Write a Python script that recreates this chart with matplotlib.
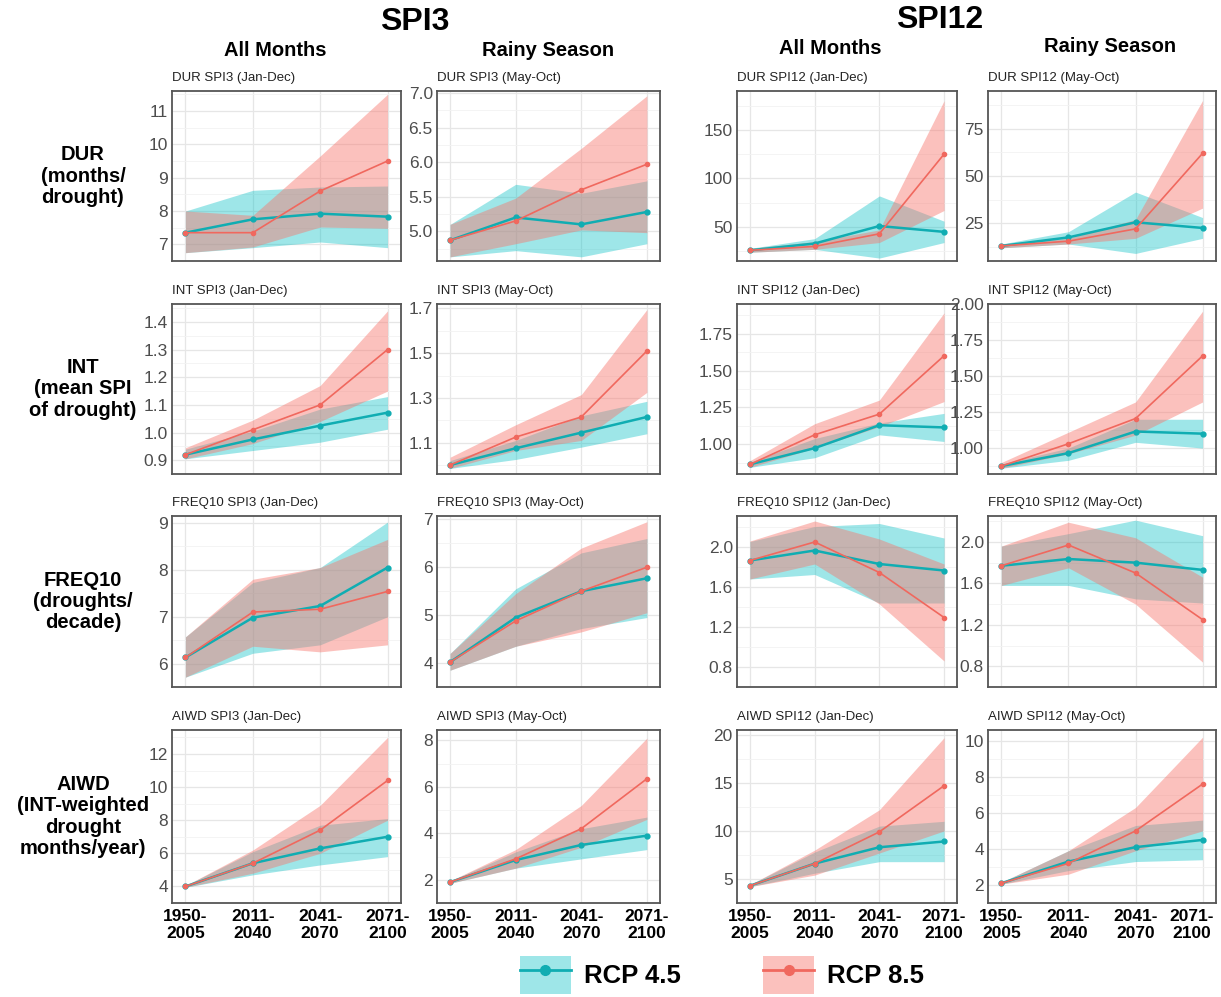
import numpy as np
import matplotlib
matplotlib.use("Agg")
import matplotlib.pyplot as plt
from matplotlib.lines import Line2D
from matplotlib.patches import Patch

periods = ["1950-\n2005", "2011-\n2040", "2041-\n2070", "2071-\n2100"]

# each panel: mean / low / high for RCP 4.5 and RCP 8.5
dur_spi3_jd = dict(m45=[7.35, 7.75, 7.92, 7.83], lo45=[6.75, 6.9, 7.07, 6.9], hi45=[8.0, 8.62, 8.72, 8.75],
                   m85=[7.35, 7.35, 8.6, 9.5], lo85=[6.75, 6.92, 7.52, 7.48], hi85=[8.0, 7.87, 9.65, 11.5])
dur_spi3_mo = dict(m45=[4.87, 5.2, 5.1, 5.28], lo45=[4.63, 4.72, 4.63, 4.82], hi45=[5.1, 5.68, 5.55, 5.73],
                   m85=[4.87, 5.15, 5.6, 5.97], lo85=[4.63, 4.82, 5.02, 4.98], hi85=[5.1, 5.48, 6.2, 6.96])
dur_spi12_jd = dict(m45=[26, 33, 51, 45], lo45=[24, 27, 18, 34], hi45=[28, 38, 82, 56],
                    m85=[26, 30, 43, 125], lo85=[24, 27, 34, 67], hi85=[28, 35, 47, 180])
dur_spi12_mo = dict(m45=[13, 17.5, 25.5, 22.5], lo45=[12, 14, 9, 17], hi45=[14, 20.5, 41.5, 28],
                    m85=[13, 15.5, 22, 62], lo85=[12, 14, 17, 33], hi85=[14, 17, 27, 90])

int_spi3_jd = dict(m45=[0.92, 0.975, 1.025, 1.072], lo45=[0.905, 0.935, 0.965, 1.012], hi45=[0.94, 1.005, 1.085, 1.13],
                   m85=[0.92, 1.01, 1.10, 1.30], lo85=[0.905, 0.96, 1.04, 1.15], hi85=[0.945, 1.045, 1.17, 1.44])
int_spi3_mo = dict(m45=[1.0, 1.075, 1.145, 1.215], lo45=[0.985, 1.025, 1.08, 1.14], hi45=[1.02, 1.11, 1.22, 1.285],
                   m85=[1.0, 1.125, 1.215, 1.51], lo85=[0.985, 1.065, 1.11, 1.325], hi85=[1.035, 1.18, 1.315, 1.695])
int_spi12_jd = dict(m45=[0.865, 0.975, 1.13, 1.115], lo45=[0.845, 0.91, 1.065, 1.02], hi45=[0.88, 1.04, 1.145, 1.21],
                    m85=[0.865, 1.065, 1.205, 1.60], lo85=[0.845, 0.975, 1.12, 1.29], hi85=[0.89, 1.14, 1.30, 1.89])
int_spi12_mo = dict(m45=[0.875, 0.965, 1.115, 1.10], lo45=[0.86, 0.915, 1.04, 1.0], hi45=[0.89, 1.0, 1.2, 1.2],
                    m85=[0.875, 1.03, 1.205, 1.64], lo85=[0.86, 0.96, 1.09, 1.32], hi85=[0.90, 1.11, 1.32, 1.95])

freq_spi3_jd = dict(m45=[6.13, 6.98, 7.23, 8.05], lo45=[5.71, 6.22, 6.4, 7.0], hi45=[6.57, 7.73, 8.05, 9.02],
                    m85=[6.13, 7.1, 7.16, 7.54], lo85=[5.71, 6.37, 6.25, 6.4], hi85=[6.57, 7.8, 8.05, 8.65])
freq_spi3_mo = dict(m45=[4.02, 4.95, 5.5, 5.77], lo45=[3.85, 4.35, 4.72, 4.95], hi45=[4.2, 5.55, 6.3, 6.6],
                    m85=[4.02, 4.88, 5.5, 6.0], lo85=[3.85, 4.35, 4.65, 5.05], hi85=[4.2, 5.45, 6.4, 6.95])
freq_spi12_jd = dict(m45=[1.865, 1.965, 1.83, 1.765], lo45=[1.68, 1.725, 1.44, 1.44], hi45=[2.055, 2.205, 2.235, 2.09],
                     m85=[1.865, 2.05, 1.745, 1.295], lo85=[1.68, 1.83, 1.43, 0.86], hi85=[2.06, 2.26, 2.08, 1.83])
freq_spi12_mo = dict(m45=[1.77, 1.835, 1.80, 1.73], lo45=[1.58, 1.58, 1.45, 1.41], hi45=[1.96, 2.08, 2.21, 2.06],
                     m85=[1.77, 1.97, 1.70, 1.25], lo85=[1.58, 1.75, 1.40, 0.84], hi85=[1.96, 2.19, 2.04, 1.66])

aiwd_spi3_jd = dict(m45=[4.0, 5.4, 6.3, 7.0], lo45=[3.95, 4.7, 5.3, 5.8], hi45=[4.05, 6.1, 7.7, 8.1],
                    m85=[4.0, 5.4, 7.4, 10.4], lo85=[3.95, 4.8, 6.0, 8.0], hi85=[4.05, 6.2, 8.9, 13.0])
aiwd_spi3_mo = dict(m45=[1.9, 2.85, 3.5, 3.9], lo45=[1.85, 2.5, 2.9, 3.3], hi45=[1.95, 3.2, 4.2, 4.7],
                    m85=[1.9, 2.9, 4.2, 6.35], lo85=[1.85, 2.5, 3.4, 4.6], hi85=[1.95, 3.3, 5.2, 8.1])
aiwd_spi12_jd = dict(m45=[4.3, 6.6, 8.3, 8.9], lo45=[4.2, 5.6, 6.8, 6.8], hi45=[4.4, 7.8, 10.5, 11.0],
                     m85=[4.3, 6.6, 9.9, 14.7], lo85=[4.2, 5.4, 7.7, 10.0], hi85=[4.4, 8.0, 12.2, 19.7])
aiwd_spi12_mo = dict(m45=[2.1, 3.3, 4.1, 4.5], lo45=[2.05, 2.8, 3.3, 3.4], hi45=[2.15, 3.9, 5.3, 5.6],
                     m85=[2.1, 3.2, 5.0, 7.6], lo85=[2.05, 2.6, 3.9, 5.0], hi85=[2.15, 3.9, 6.3, 10.2])

panels = [
    [("DUR SPI3 (Jan-Dec)", dur_spi3_jd, [7, 8, 9, 10, 11], (6.6, 11.6), "{:.0f}"),
     ("DUR SPI3 (May-Oct)", dur_spi3_mo, [5.0, 5.5, 6.0, 6.5, 7.0], (4.57, 7.03), "{:.1f}"),
     ("DUR SPI12 (Jan-Dec)", dur_spi12_jd, [50, 100, 150], (15, 190), "{:.0f}"),
     ("DUR SPI12 (May-Oct)", dur_spi12_mo, [25, 50, 75], (5, 95), "{:.0f}")],
    [("INT SPI3 (Jan-Dec)", int_spi3_jd, [0.9, 1.0, 1.1, 1.2, 1.3, 1.4], (0.885, 1.465), "{:.1f}"),
     ("INT SPI3 (May-Oct)", int_spi3_mo, [1.1, 1.3, 1.5, 1.7], (0.96, 1.72), "{:.1f}"),
     ("INT SPI12 (Jan-Dec)", int_spi12_jd, [1.00, 1.25, 1.50, 1.75], (0.8, 1.95), "{:.2f}"),
     ("INT SPI12 (May-Oct)", int_spi12_mo, [1.00, 1.25, 1.50, 1.75, 2.00], (0.82, 2.0), "{:.2f}")],
    [("FREQ10 SPI3 (Jan-Dec)", freq_spi3_jd, [6, 7, 8, 9], (5.63, 9.15), "{:.0f}"),
     ("FREQ10 SPI3 (May-Oct)", freq_spi3_mo, [4, 5, 6, 7], (3.85, 7.07), "{:.0f}"),
     ("FREQ10 SPI12 (Jan-Dec)", freq_spi12_jd, [0.8, 1.2, 1.6, 2.0], (0.8, 2.31), "{:.1f}"),
     ("FREQ10 SPI12 (May-Oct)", freq_spi12_mo, [0.8, 1.2, 1.6, 2.0], (0.8, 2.25), "{:.1f}")],
    [("AIWD SPI3 (Jan-Dec)", aiwd_spi3_jd, [4, 6, 8, 10, 12], (3.55, 13.45), "{:.0f}"),
     ("AIWD SPI3 (May-Oct)", aiwd_spi3_mo, [2, 4, 6, 8], (1.55, 8.45), "{:.0f}"),
     ("AIWD SPI12 (Jan-Dec)", aiwd_spi12_jd, [5, 10, 15, 20], (3.2, 20.5), "{:.0f}"),
     ("AIWD SPI12 (May-Oct)", aiwd_spi12_mo, [2, 4, 6, 8, 10], (1.6, 10.6), "{:.0f}")],
]

row_labels = ["DUR\n(months/\ndrought)", "INT\n(mean SPI\nof drought)",
              "FREQ10\n(droughts/\ndecade)", "AIWD\n(INT-weighted\ndrought\nmonths/year)"]

W, H = 1221, 997
col_px = [(172, 401), (437, 660), (737, 957), (988, 1216)]
row_px = [(91, 261), (304, 474), (516, 687), (730, 903)]

c45, c85 = "#00BFC4", "#F8766D"
l45, l85 = "#10ADB2", "#F0685E"

fig = plt.figure(figsize=(W / 100, H / 100), dpi=100)
plt.rcParams['font.family'] = ['Liberation Sans', 'DejaVu Sans']

x = np.arange(4)
for r, row in enumerate(panels):
    for c, (title, d, ticks, ylim, fmt) in enumerate(row):
        x0, x1 = col_px[c]
        y0, y1 = row_px[r]
        ax = fig.add_axes([x0 / W, 1 - y1 / H, (x1 - x0) / W, (y1 - y0) / H])
        ax.fill_between(x, d["lo45"], d["hi45"], color=c45, alpha=0.38, lw=0)
        ax.fill_between(x, d["lo85"], d["hi85"], color=c85, alpha=0.45, lw=0)
        ax.plot(x, d["m45"], color=l45, lw=1.8, marker="o", ms=3.5, zorder=3)
        ax.plot(x, d["m85"], color=l85, lw=1.2, marker="o", ms=3.0, zorder=4)
        ax.set_xlim(-0.2, 3.2)
        ax.set_ylim(*ylim)
        ax.set_yticks(ticks)
        ax.set_yticklabels([fmt.format(t) for t in ticks])
        step = ticks[1] - ticks[0]
        minors = np.arange(ticks[0] - step / 2, ylim[1], step)
        ax.set_yticks(minors, minor=True)
        ax.set_xticks(x)
        if r == 3:
            if c == 3:
                # last label nudged left so it stays inside the figure
                ax.set_xticklabels(periods[:3] + [""], fontweight="bold")
                ax.annotate(periods[3], xy=(3, 0), xycoords=("data", "axes fraction"),
                            xytext=(-8, -4), textcoords="offset points", ha="center", va="top",
                            fontsize=12.5, fontweight="bold")
            else:
                ax.set_xticklabels(periods, fontweight="bold")
        else:
            ax.set_xticklabels([])
        ax.grid(True, which="major", color="#E6E6E6", lw=0.9)
        ax.grid(True, which="minor", axis="y", color="#F2F2F2", lw=0.6)
        ax.set_axisbelow(True)
        ax.tick_params(axis="both", which="both", length=0, labelsize=12.5, colors="#4D4D4D", pad=3)
        ax.tick_params(axis="x", colors="black", pad=4)
        for s in ax.spines.values():
            s.set_color("#555555")
            s.set_linewidth(1.3)
        ax.text(0.0, 1.04, title, transform=ax.transAxes, fontsize=9.5, color="#222222",
                ha="left", va="bottom")

# column and group headers
fig.text(415 / W, 1 - 22 / H, "SPI3", fontsize=23, fontweight="bold", ha="center", va="center")
fig.text(940 / W, 1 - 20 / H, "SPI12", fontsize=23, fontweight="bold", ha="center", va="center")
for xp, yp, s in [(275, 50, "All Months"), (548, 50, "Rainy Season"),
                  (830, 48, "All Months"), (1110, 47, "Rainy Season")]:
    fig.text(xp / W, 1 - yp / H, s, fontsize=14.5, fontweight="bold", ha="center", va="center")

for r, lab in enumerate(row_labels):
    y0, y1 = row_px[r]
    fig.text(83 / W, 1 - (y0 + y1) / 2 / H, lab, fontsize=14.5, fontweight="bold",
             ha="center", va="center", linespacing=1.15)

handles = [(Patch(facecolor=c45, alpha=0.38), Line2D([], [], color=l45, lw=2, marker="o", ms=7)),
           (Patch(facecolor=c85, alpha=0.45), Line2D([], [], color=l85, lw=2, marker="o", ms=7))]
fig.legend(handles, ["RCP 4.5", "RCP 8.5"], loc="center", bbox_to_anchor=(722 / W, 1 - 975 / H),
           ncol=2, frameon=False, prop={"weight": "bold", "size": 18.5},
           handlelength=2.0, handleheight=1.9, columnspacing=3.2, handletextpad=0.5)

fig.savefig("out.png", dpi=100)
